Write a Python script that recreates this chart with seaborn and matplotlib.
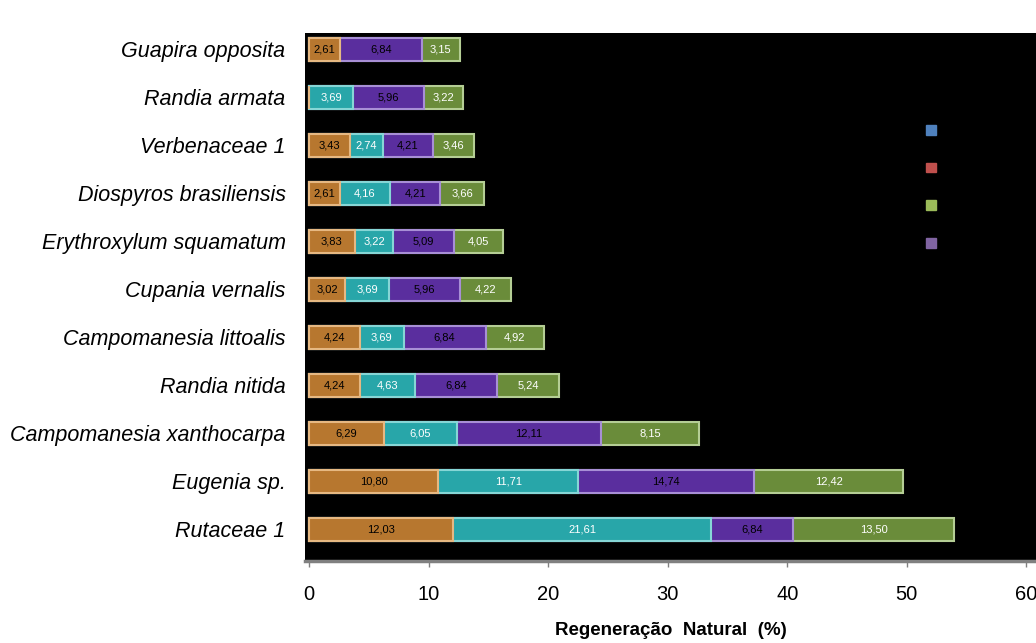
import numpy as np
import pandas as pd
import matplotlib
matplotlib.use("Agg")
import matplotlib.pyplot as plt
from matplotlib.patches import Patch
import seaborn as sns

species = ["Guapira opposita", "Randia armata", "Verbenaceae 1", "Diospyros brasiliensis",
           "Erythroxylum squamatum", "Cupania vernalis", "Campomanesia littoalis",
           "Randia nitida", "Campomanesia xanthocarpa", "Eugenia sp.", "Rutaceae 1"]
s1 = [2.61, 0, 3.43, 2.61, 3.83, 3.02, 4.24, 4.24, 6.29, 10.80, 12.03]
s2 = [0, 3.69, 2.74, 4.16, 3.22, 3.69, 3.69, 4.63, 6.05, 11.71, 21.61]
s3 = [6.84, 5.96, 4.21, 4.21, 5.09, 5.96, 6.84, 6.84, 12.11, 14.74, 6.84]
s4 = [3.15, 3.22, 3.46, 3.66, 4.05, 4.22, 4.92, 5.24, 8.15, 12.42, 13.50]
series = [s1, s2, s3, s4]
xticks = [0, 10, 20, 30, 40, 50, 60]
legend_labels = ["DR", "FR", "CTR", "RN"]

bar_colors = ["#B7772F", "#28A6A9", "#5A2E9E", "#6A8C3A"]
edge_colors = ["#E6B882", "#86D6D6", "#A88FD6", "#B5CE95"]
text_colors = ["black", "white", "black", "white"]
legend_colors = ["#4F81BD", "#C0504D", "#9BBB59", "#8064A2"]

sns.set_theme(style="white")
plt.rcParams["font.family"] = ["Liberation Sans", "DejaVu Sans"]
plt.rcParams["text.color"] = "black"
plt.rcParams["xtick.labelcolor"] = "black"
plt.rcParams["ytick.labelcolor"] = "black"
plt.rcParams["axes.labelcolor"] = "black"

fig = plt.figure(figsize=(10.36, 6.43), dpi=100)
fig.patch.set_facecolor("white")
ax = fig.add_axes([0.2944, 0.1275, 0.7056, 0.8212])
ax.set_facecolor("black")

arr = np.array(series, dtype=float)
cum = np.cumsum(arr, axis=0)

# layered cumulative bars: largest first
for i in range(3, -1, -1):
    df = pd.DataFrame({"species": species, "val": cum[i]})
    sns.barplot(data=df, x="val", y="species", orient="h", color=bar_colors[i],
                saturation=1, width=0.48, edgecolor=edge_colors[i], linewidth=1.5,
                errorbar=None, ax=ax)

for i in range(4):
    for j, sp in enumerate(species):
        v = arr[i, j]
        if v > 0:
            ax.text(cum[i, j] - v / 2, j, f"{v:.2f}".replace(".", ","),
                    ha="center", va="center", fontsize=8, color=text_colors[i])

ax.set_xlim(-0.33, 60.8)
ax.set_ylim(10.667, -0.344)
ax.set_xticks(xticks)
ax.set_xticklabels([str(t) for t in xticks])
ax.tick_params(axis="x", which="both", bottom=True, length=4, width=1, color="#808080",
               labelsize=14.5, pad=13.5, labelcolor="black")
ax.tick_params(axis="y", left=False, pad=8, labelsize=15.5, labelcolor="black")
for lab in ax.get_yticklabels():
    lab.set_fontstyle("italic")
ax.set_ylabel("")
ax.set_xlabel("Regeneração  Natural  (%)", fontsize=13.5, fontweight="bold", labelpad=13,
              color="black")

for side in ["top", "right", "left"]:
    ax.spines[side].set_visible(False)
ax.spines["bottom"].set_color("#808080")
ax.spines["bottom"].set_linewidth(2.5)

handles = [Patch(facecolor=c, edgecolor=c) for c in legend_colors]
leg = ax.legend(handles, legend_labels, loc="upper left", bbox_to_anchor=(0.8495, 0.828),
                frameon=False, fontsize=10, labelspacing=1.7, handlelength=0.7,
                handleheight=0.7, borderpad=0, borderaxespad=0, handletextpad=0.5)
for t in leg.get_texts():
    t.set_color("black")

fig.savefig("out.png", dpi=100, facecolor="white")
